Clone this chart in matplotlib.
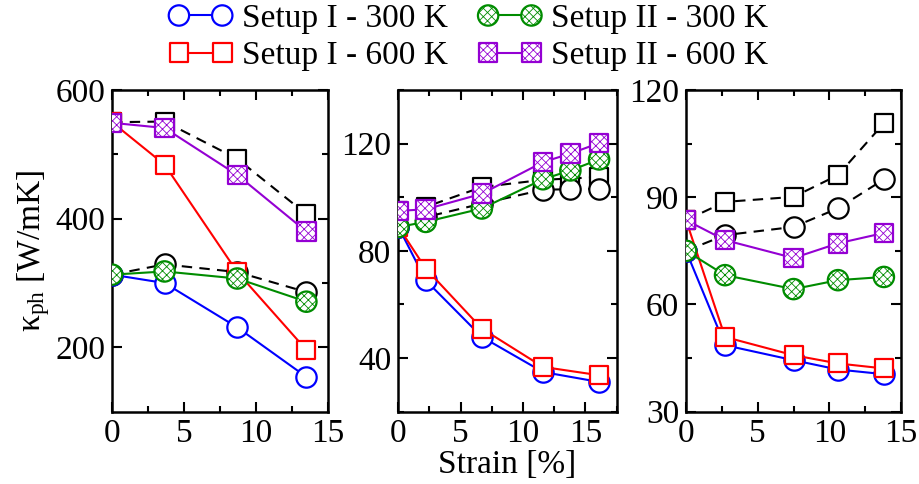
import matplotlib
matplotlib.use("Agg")
import matplotlib.pyplot as plt
from matplotlib.legend_handler import HandlerTuple

plt.rcParams["font.family"] = ["Liberation Serif", "DejaVu Serif"]
plt.rcParams["mathtext.fontset"] = "custom"
plt.rcParams["mathtext.rm"] = "Liberation Serif"
plt.rcParams["mathtext.it"] = "Liberation Serif:italic"
plt.rcParams["hatch.linewidth"] = 0.6

# ---- panel 1 ----
x1 = [0, 3.65, 8.7, 13.5]
p1_I_300 = [313, 300, 231, 154]
p1_I_600 = [550, 484, 317, 196]
p1_II_300 = [313, 318, 307, 271]
p1_II_600 = [549, 541, 468, 380]
p1_ref_sq = [550, 551, 493, 407]
p1_ref_ci = [313, 329, 317, 286]

# ---- panel 2 ----
x2_I = [0, 2.2, 6.7, 11.6, 16.1]
x2_II = [0, 2.2, 6.7, 11.6, 13.8, 16.1]
p2_I_300 = [89, 69, 47.9, 34.8, 31.1]
p2_I_600 = [89, 73.4, 51, 36.7, 33.6]
p2_II_300 = [88.9, 90.8, 95.8, 106.7, 110, 114.1]
p2_II_600 = [94.9, 95.5, 101.3, 113.1, 116.3, 120.2]
p2_ref_sq = [94.9, 96.4, 103.8, 106.5, 107, 107.5]
p2_ref_ci = [88.9, 92.6, 97.6, 102.8, 103, 103.2]

# ---- panel 3 ----
x3 = [0, 2.72, 7.5, 10.6, 13.8]
p3_I_300 = [75, 48.6, 44.4, 41.8, 40.5]
p3_I_600 = [83.6, 50.9, 45.8, 43.5, 42.1]
p3_II_300 = [75, 68.2, 64.3, 66.8, 67.7]
p3_II_600 = [83.6, 78, 73, 77.1, 80]
p3_ref_sq = [83.6, 88.7, 90.1, 96.2, 110.7]
p3_ref_ci = [75, 79.4, 81.7, 86.9, 95]

labels = ["Setup I - 300 K", "Setup I - 600 K", "Setup II - 300 K", "Setup II - 600 K"]
colors = ["#0000ff", "#ff0000", "#008c00", "#9400d3"]
markers = ["o", "s", "o", "s"]
hatches = [None, None, "xxxx", "xxxx"]

MS = {"o": 215, "s": 180}
FS = 24


def series(ax, x, y, color, marker, hatch=None, ls="-", z=2):
    ln, = ax.plot(x, y, color=color, lw=1.5, ls=ls, zorder=z)
    if ls == "--":
        ln.set_dashes((5, 3.5))
    sc = ax.scatter(x, y, s=MS[marker], marker=marker, facecolor="white",
                    edgecolor=color, linewidths=1.6, hatch=hatch, zorder=z + 0.5)
    return ln, sc


fig = plt.figure(figsize=(9.19, 4.84), dpi=100)
ax1 = fig.add_axes([0.1219, 0.1494, 0.2350, 0.6646])
ax2 = fig.add_axes([0.4334, 0.1494, 0.2375, 0.6646])
ax3 = fig.add_axes([0.7465, 0.1494, 0.2340, 0.6646])

panels = [
    (ax1, x1, x1, x1, [p1_I_300, p1_I_600, p1_II_300, p1_II_600], p1_ref_sq, p1_ref_ci),
    (ax2, x2_I, x2_II, x2_II, [p2_I_300, p2_I_600, p2_II_300, p2_II_600], p2_ref_sq, p2_ref_ci),
    (ax3, x3, x3, x3, [p3_I_300, p3_I_600, p3_II_300, p3_II_600], p3_ref_sq, p3_ref_ci),
]

handles = []
for ax, xI, xII, xref, ys, ref_sq, ref_ci in panels:
    series(ax, xref, ref_sq, "black", "s", ls="--", z=1)
    series(ax, xref, ref_ci, "black", "o", ls="--", z=1)
    hs = []
    for i, y in enumerate(ys):
        x = xI if i < 2 else xII
        hs.append(series(ax, x, y, colors[i], markers[i], hatches[i], z=3 + i))
    if not handles:
        handles = hs

ax1.set_xlim(0, 15)
ax1.set_ylim(100, 600)
ax1.set_yticks([200, 400, 600])
ax1.set_yticks([300, 500], minor=True)

ax2.set_xlim(0, 17.5)
ax2.set_ylim(20, 140)
ax2.set_yticks([40, 80, 120])
ax2.set_yticks([20, 60, 100, 140], minor=True)

ax3.set_xlim(0, 15)
ax3.set_ylim(30, 120)
ax3.set_yticks([30, 60, 90, 120])
ax3.set_yticks([45, 75, 105], minor=True)

for ax in (ax1, ax2, ax3):
    xmax = ax.get_xlim()[1]
    ax.set_xticks([0, 5, 10, 15])
    ax.set_xticks([2.5, 7.5, 12.5] + ([17.5] if xmax > 15 else []), minor=True)
    ax.set_xlim(0, xmax)
    ax.tick_params(which="both", direction="in", top=True, right=True, labelsize=FS, width=1.5)
    ax.tick_params(which="major", length=7, pad=5)
    ax.tick_params(which="minor", length=4)
    for sp in ax.spines.values():
        sp.set_linewidth(1.8)

ax1.set_ylabel(r"κ$_{\rm ph}$ [W/mK]", fontsize=FS, labelpad=2)
ax2.set_xlabel("Strain [%]", fontsize=FS, labelpad=0)

fig.legend([tuple(h) for h in handles], labels,
           handler_map={tuple: HandlerTuple(ndivide=1, pad=0)},
           loc="upper center", bbox_to_anchor=(0.51, 1.02), ncol=2, frameon=False,
           numpoints=2, scatterpoints=2, scatteryoffsets=[0.5], fontsize=FS,
           handlelength=1.9, handletextpad=0.3, columnspacing=0.9, labelspacing=0.2,
           borderaxespad=0)

fig.savefig("out.png", dpi=100)
